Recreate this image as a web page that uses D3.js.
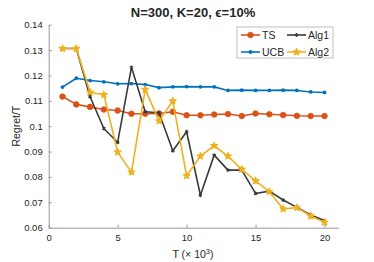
<!DOCTYPE html>
<html>
<head>
<meta charset="utf-8">
<script src="https://cdn.jsdelivr.net/npm/d3@7"></script>
<style>
  body { margin: 0; background: #fff; }
  svg text { font-family: "Liberation Sans", Arial, Helvetica, sans-serif; fill: #262626; }
</style>
</head>
<body>
<svg id="chart" width="374" height="262"></svg>
<script>
// T values (x 10^3)
const tValues = [1, 2, 3, 4, 5, 6, 7, 8, 9, 10, 11, 12, 13, 14, 15, 16, 17, 18, 19, 20];

// Regret/T for each method
const tsValues = [0.1117, 0.1086, 0.1076, 0.1066, 0.1062, 0.1049, 0.1049, 0.1050, 0.1057, 0.1043,
                  0.1043, 0.1046, 0.1048, 0.1040, 0.1050, 0.1047, 0.1044, 0.1041, 0.1040, 0.1040];
const ucbValues = [0.1154, 0.1189, 0.1180, 0.1175, 0.1167, 0.1168, 0.1164, 0.1152, 0.1155, 0.1156,
                   0.1155, 0.1155, 0.1141, 0.1142, 0.1141, 0.1141, 0.1142, 0.1141, 0.1135, 0.1133];
const alg1Values = [0.1306, 0.1306, 0.1116, 0.0991, 0.0936, 0.1232, 0.1057, 0.1053, 0.0903, 0.0978,
                    0.0728, 0.0886, 0.0827, 0.0827, 0.0735, 0.0744, 0.0709, 0.0680, 0.0650, 0.0628];
const alg2Values = [0.1306, 0.1306, 0.1134, 0.1124, 0.0898, 0.0819, 0.1145, 0.1021, 0.1099, 0.0805,
                    0.0882, 0.0923, 0.0882, 0.0830, 0.0785, 0.0742, 0.0674, 0.0679, 0.0646, 0.0621];

const xTicks = [0, 5, 10, 15, 20];
const yTicks = [0.06, 0.07, 0.08, 0.09, 0.10, 0.11, 0.12, 0.13, 0.14];
const yTickLabels = ["0.06", "0.07", "0.08", "0.09", "0.1", "0.11", "0.12", "0.13", "0.14"];

const series = [
  { name: "TS", values: tsValues, color: "#D95319", marker: "circle" },
  { name: "UCB", values: ucbValues, color: "#0072BD", marker: "dot" },
  { name: "Alg1", values: alg1Values, color: "#3a3a3a", marker: "asterisk" },
  { name: "Alg2", values: alg2Values, color: "#EDB120", marker: "star" }
];

const svg = d3.select("#chart");

// scales
const x = d3.scaleLinear().domain([0, 21]).range([48.7, 338.3]);
const y = d3.scaleLinear().domain([0.06, 0.14]).range([227.7, 24.7]);

// axes (ticks inward, no box)
const xAxis = svg.append("g")
  .attr("transform", `translate(0,${y(0.06)})`)
  .call(d3.axisBottom(x).tickValues(xTicks).tickSizeInner(-3).tickSizeOuter(0).tickPadding(7));
const yAxis = svg.append("g")
  .attr("transform", `translate(${x(0)},0)`)
  .call(d3.axisLeft(y).tickValues(yTicks).tickSizeInner(-3).tickSizeOuter(0).tickPadding(6)
    .tickFormat((d, i) => yTickLabels[i]));

[xAxis, yAxis].forEach(a => {
  a.select(".domain").attr("stroke", "#999");
  a.selectAll(".tick line").attr("stroke", "#999");
  a.selectAll(".tick text").style("font-size", "9.5px").attr("fill", "#262626");
});

// draw a marker of a given kind
function drawMarker(g, kind, color, cx, cy) {
  if (kind === "circle") {
    g.append("circle").attr("cx", cx).attr("cy", cy).attr("r", 2.8)
      .attr("fill", color).attr("stroke", color).attr("stroke-width", 0.8);
  } else if (kind === "dot") {
    g.append("circle").attr("cx", cx).attr("cy", cy).attr("r", 1.9).attr("fill", color);
  } else if (kind === "asterisk") {
    g.append("path").attr("d", d3.symbol(d3.symbolAsterisk, 10)())
      .attr("transform", `translate(${cx},${cy})`)
      .attr("fill", "none").attr("stroke", color).attr("stroke-width", 1.1);
  } else {
    g.append("path").attr("d", d3.symbol(d3.symbolStar, 14)())
      .attr("transform", `translate(${cx},${cy})`)
      .attr("fill", color).attr("stroke", color).attr("stroke-width", 1.3)
      .attr("stroke-linejoin", "round");
  }
}

// lines and markers
const line = d3.line().x((d, i) => x(tValues[i])).y(d => y(d));
series.forEach(s => {
  const g = svg.append("g");
  g.append("path")
    .datum(s.values)
    .attr("fill", "none")
    .attr("stroke", s.color)
    .attr("stroke-width", 1.6)
    .attr("stroke-linejoin", "round")
    .attr("d", line);
  s.values.forEach((v, i) => drawMarker(g, s.marker, s.color, x(tValues[i]), y(v)));
});

// title
svg.append("text")
  .attr("x", 193).attr("y", 16.5)
  .attr("text-anchor", "middle")
  .style("font-size", "13px").style("font-weight", "bold")
  .text("N=300, K=20, ϵ=10%");

// axis labels
const xl = svg.append("text")
  .attr("x", 193).attr("y", 258)
  .attr("text-anchor", "middle")
  .style("font-size", "10.5px");
xl.append("tspan").text("T (× 10");
xl.append("tspan").attr("dy", -4).style("font-size", "7.5px").text("3");
xl.append("tspan").attr("dy", 4).text(")");

svg.append("text")
  .attr("transform", `translate(20,${y(0.10)}) rotate(-90)`)
  .attr("text-anchor", "middle")
  .style("font-size", "10.5px")
  .text("Regret/T");

// legend
const legend = svg.append("g");
legend.append("rect")
  .attr("x", 237).attr("y", 27).attr("width", 96).attr("height", 31)
  .attr("fill", "#fff").attr("stroke", "#b0b0b0").attr("stroke-width", 0.8);

const legendPos = [[241, 35], [241, 52], [287, 35], [287, 52]];
series.forEach((s, i) => {
  const [lx, ly] = legendPos[i];
  legend.append("line")
    .attr("x1", lx).attr("x2", lx + 19).attr("y1", ly).attr("y2", ly)
    .attr("stroke", s.color).attr("stroke-width", 1.6);
  drawMarker(legend, s.marker, s.color, lx + 9.5, ly);
  legend.append("text")
    .attr("x", lx + 21).attr("y", ly + 3.7)
    .style("font-size", "10.5px")
    .text(s.name);
});
</script>
</body>
</html>
